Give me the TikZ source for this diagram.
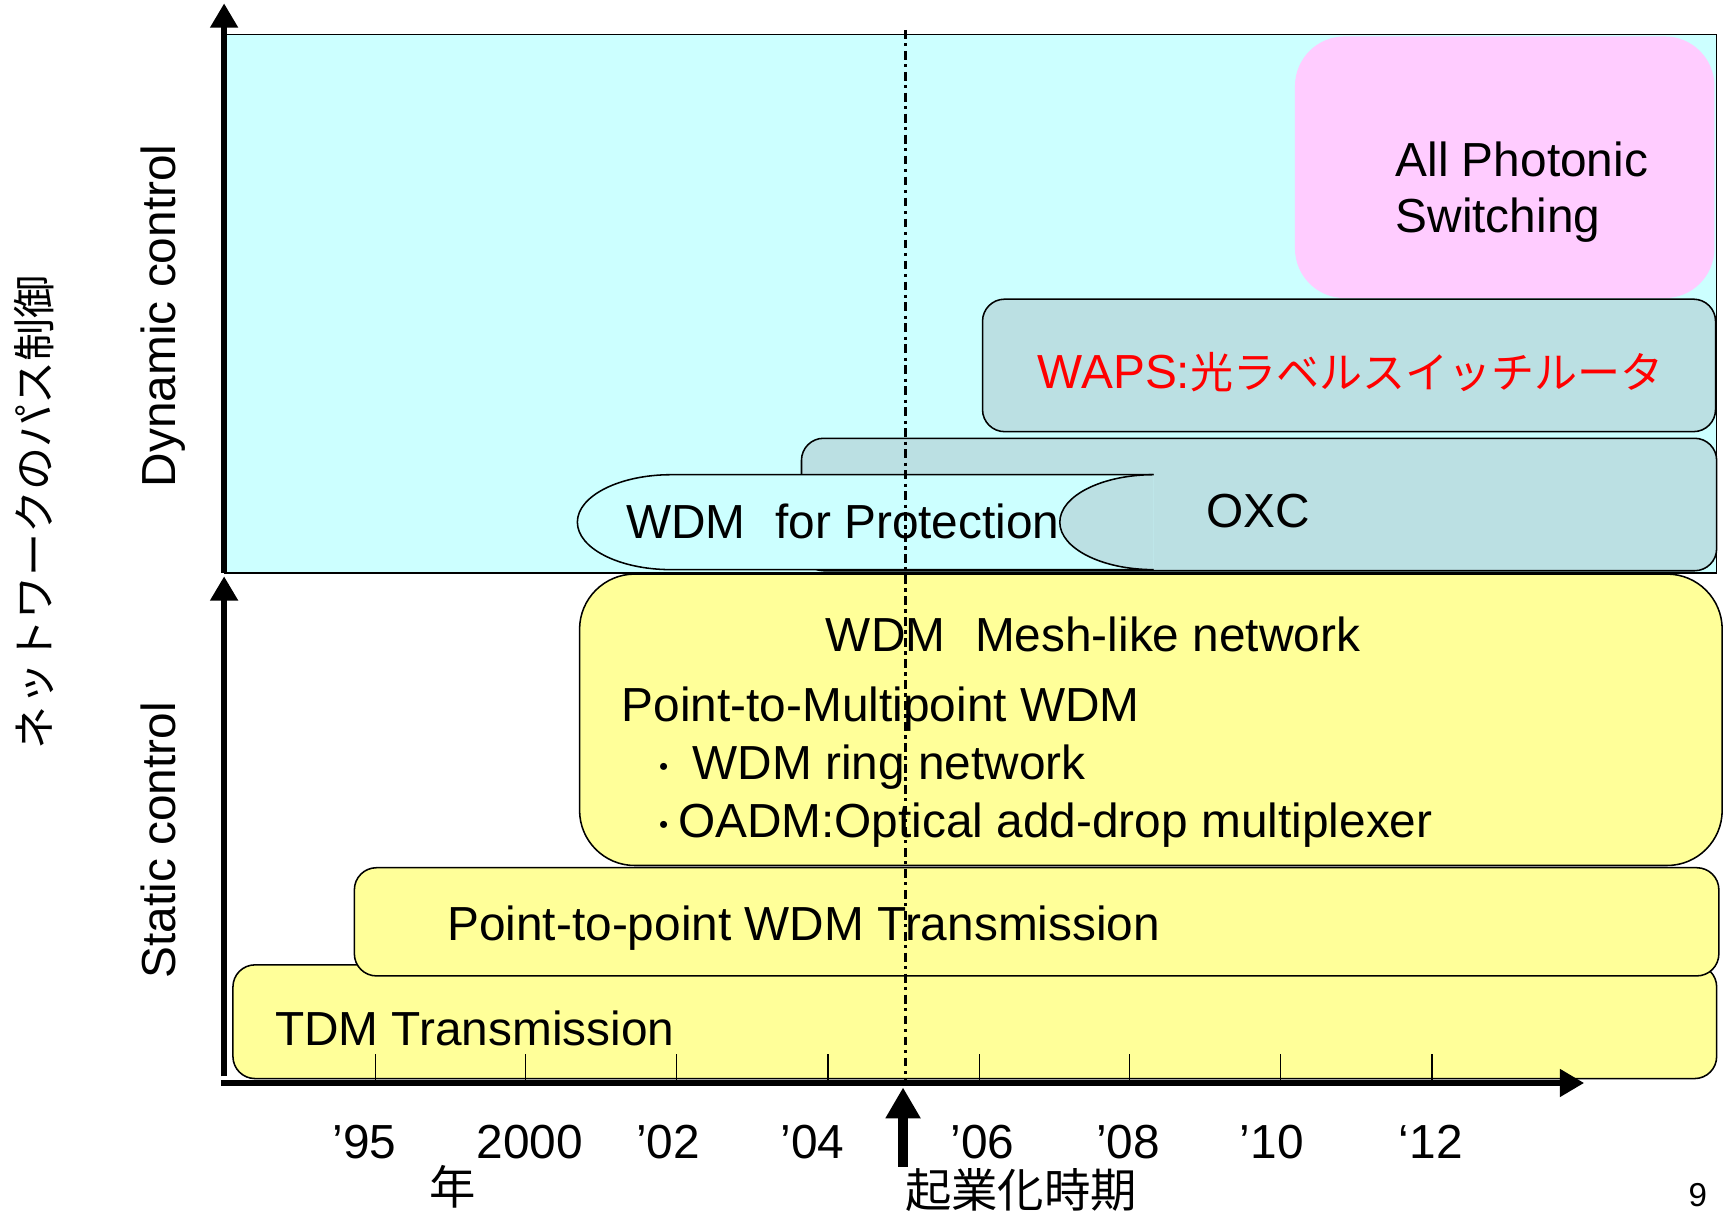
\documentclass[tikz,border=0pt]{standalone}
\usepackage{fontspec}
\setmainfont{Liberation Sans}
\newfontfamily\cjk{Noto Sans CJK JP}
\usetikzlibrary{arrows.meta}
\definecolor{skycyan}{HTML}{CCFFFF}
\definecolor{pinkbox}{HTML}{FFCCFF}
\definecolor{tealbox}{HTML}{BBE0E3}
\definecolor{yellowbox}{HTML}{FFFF99}
\newcommand{\itemdot}{\makebox[26pt]{\cjk\fontsize{30}{36}\selectfont ・}}

\begin{document}
\begin{tikzpicture}[x=1pt,y=-1pt,
  lbl/.style={inner sep=0pt, font=\fontsize{43.3}{52}\selectfont},
  jlbl/.style={inner sep=0pt, font=\cjk\fontsize{42}{50}\selectfont},
  band/.style={draw=black, line width=1.4pt},
  axisline/.style={line width=6pt, -{Triangle[length=22pt,width=24pt]}},
  tickmark/.style={line width=1.2pt},
  nowline/.style={line width=2.6pt, dash pattern=on 8pt off 4pt on 3pt off 4pt},
]
\useasboundingbox (0,0) rectangle (1568,1097);

% dynamic-control field
\draw[fill=skycyan, line width=1pt] (203,31) rectangle (1555,519);
\fill[pinkbox, rounded corners=45pt] (1173,33) rectangle (1553,270);
\draw[band, fill=tealbox, rounded corners=20pt] (890,271) rectangle (1554,391);
\draw[band, fill=tealbox, rounded corners=20pt] (726,397) rectangle (1555,517);

% WDM for protection band, capped on the right by the OXC lobe
\fill[skycyan] (1045,430) -- (608,430)
  arc[start angle=90, end angle=270, x radius=85pt, y radius=43pt] -- (1045,516) -- cycle;
\draw[band] (1045,430) -- (608,430)
  arc[start angle=90, end angle=270, x radius=85pt, y radius=43pt] -- (1045,516);
\fill[tealbox] (1045,430)
  arc[start angle=90, end angle=270, x radius=85pt, y radius=43pt] -- cycle;
\draw[band] (1045,430)
  arc[start angle=90, end angle=270, x radius=85pt, y radius=43pt];

% static-control bands
\draw[band, fill=yellowbox, rounded corners=20pt] (211,874) rectangle (1555,977);
\draw[band, fill=yellowbox, rounded corners=20pt] (321,786) rectangle (1557,884);
\draw[band, fill=yellowbox, rounded corners=50pt] (525,520) rectangle (1560,784);

% year ticks
\foreach \t in {340,476,613,750,887,1023,1160,1297}
  \draw[tickmark] (\t,955) -- (\t,979);

% axes
\coordinate (upTop) at (203,3);
\coordinate (upBot) at (203,519);
\coordinate (loTop) at (203,522);
\coordinate (loBot) at (203,975);
\coordinate (xLeft) at (200,981);
\coordinate (xRight) at (1435,981);
\draw[axisline] (upBot) -- (upTop);
\draw[axisline] (loBot) -- (loTop);
\draw[axisline] (xLeft) -- (xRight);

% start-up time marker
\coordinate (nowTop) at (820,27);
\coordinate (nowBot) at (820,981);
\draw[nowline] (nowTop) -- (nowBot);
\coordinate (mkTail) at (818,1057);
\coordinate (mkTip) at (818,985);
\draw[line width=9pt, -{Triangle[length=28pt,width=30pt]}] (mkTail) -- (mkTip);

% labels inside the bands
\node[lbl, anchor=base west] (aps1) at (1264,160) {All Photonic};
\node[lbl, anchor=base west] (aps2) at (1264,211) {Switching};
\node[lbl, anchor=base west, text=red] (waps) at (940,352)
  {WAPS:{\cjk\fontsize{39}{46}\selectfont 光ラベルスイッチルータ}};
\node[lbl, anchor=base] (oxc) at (1140,478) {OXC};
\node[lbl, anchor=base west] (prot) at (567,488) {WDM\hspace{0.62em}for Protection};
\node[lbl, anchor=base west] (mesh) at (748,590) {WDM\hspace{0.62em}Mesh-like network};
\node[lbl, anchor=base west] (p2mp) at (563,654) {Point-to-Multipoint WDM};
\node[lbl, anchor=base west] (ring) at (588,706)
  {\itemdot\hspace{13pt}WDM ring network};
\node[lbl, anchor=base west] (oadm) at (588,759)
  {\itemdot OADM:Optical add-drop multiplexer};
\node[lbl, anchor=base west] (p2p) at (405,852) {Point-to-point WDM Transmission};
\node[lbl, anchor=base west] (tdm) at (249,947) {TDM Transmission};

% axis labels
\node[lbl, rotate=90, anchor=base] (dyn) at (159,286) {Dynamic control};
\node[lbl, rotate=90, anchor=base] (sta) at (159,761) {Static control};
\node[inner sep=0pt, rotate=90, font=\cjk\fontsize{39}{46}\selectfont] (path) at (31,464)
  {ネットワークのパス制御};

\foreach \x/\y/\n in {330/’95/y95, 480/2000/y00, 605/’02/y02, 736/’04/y04,
                      890/’06/y06, 1022/’08/y08, 1152/’10/y10, 1296/‘12/y12}
  \node[lbl, anchor=base] (\n) at (\x,1049) {\y};
\node[jlbl] (nen) at (410,1075) {年};
\node[jlbl] (kigyo) at (925,1078) {起業化時期};
\node[inner sep=0pt, font=\fontsize{30}{36}\selectfont] (page) at (1538,1083) {9};
\end{tikzpicture}
\end{document}
